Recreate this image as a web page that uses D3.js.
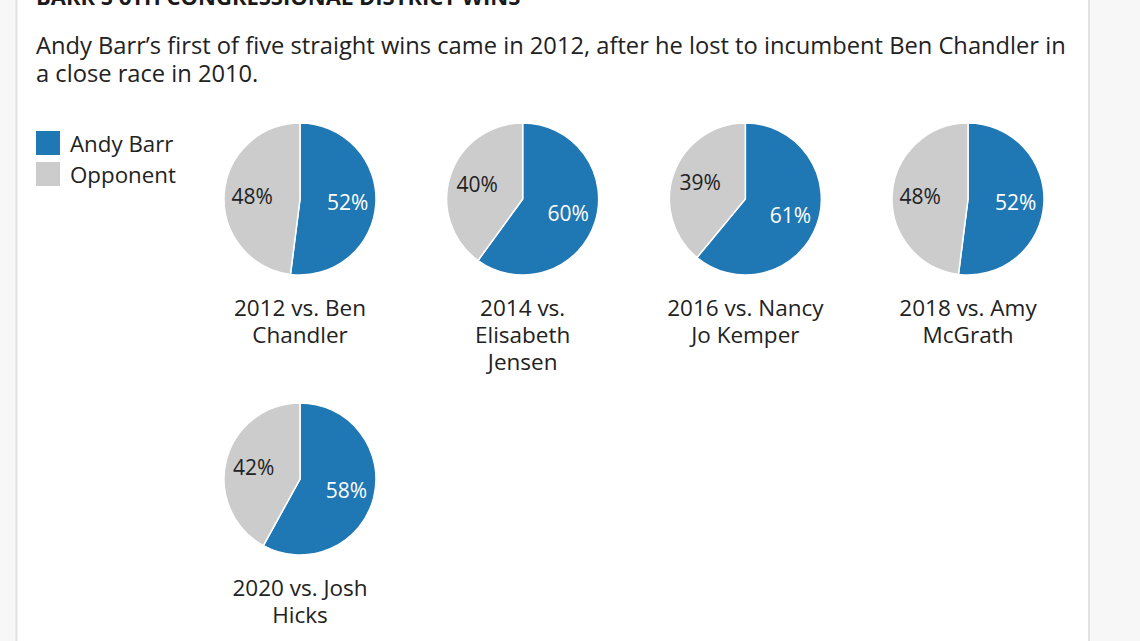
<!DOCTYPE html>
<html>
<head>
<meta charset="utf-8">
<script src="https://cdn.jsdelivr.net/npm/d3@7"></script>
<style>
  html, body { margin: 0; padding: 0; background: #f7f7f7; }
  svg { display: block; }
</style>
</head>
<body>
<div id="chart"></div>
<script>
// chart data
var years = [2012, 2014, 2016, 2018, 2020];
var barrShare = [52, 60, 61, 52, 58];
var opponentShare = [48, 40, 39, 48, 42];
var raceLabels = [
  ["2012 vs. Ben", "Chandler"],
  ["2014 vs.", "Elisabeth", "Jensen"],
  ["2016 vs. Nancy", "Jo Kemper"],
  ["2018 vs. Amy", "McGrath"],
  ["2020 vs. Josh", "Hicks"]
];
var seriesNames = ["Andy Barr", "Opponent"];
var seriesColors = ["#1f77b4", "#cccccc"];

var svgWidth = 1140;
var svgHeight = 641;
var fontFamily = "'Open Sans', 'Noto Sans', sans-serif";

var svg = d3.select("#chart")
  .append("svg")
  .attr("width", svgWidth)
  .attr("height", svgHeight);

// white panel with side borders
svg.append("rect")
  .attr("x", 16)
  .attr("y", 0)
  .attr("width", 1073)
  .attr("height", svgHeight)
  .attr("fill", "#fff");
svg.append("line")
  .attr("x1", 16.5).attr("x2", 16.5)
  .attr("y1", 0).attr("y2", svgHeight)
  .attr("stroke", "#e2e2e2").attr("stroke-width", 2);
svg.append("line")
  .attr("x1", 1089).attr("x2", 1089)
  .attr("y1", 0).attr("y2", svgHeight)
  .attr("stroke", "#e2e2e2").attr("stroke-width", 2);

// title (cut off at top, as in the source page)
svg.append("text")
  .attr("x", 36)
  .attr("y", 5)
  .attr("font-family", fontFamily)
  .attr("font-weight", "bold")
  .attr("font-size", "22px")
  .attr("fill", "#1a1a1a")
  .text("BARR'S 6TH CONGRESSIONAL DISTRICT WINS");

var subtitle = svg.append("text")
  .attr("font-family", fontFamily)
  .attr("font-size", "23.7px")
  .attr("fill", "#222");
subtitle.append("tspan")
  .attr("x", 36).attr("y", 54)
  .text("Andy Barr\u2019s first of five straight wins came in 2012, after he lost to incumbent Ben Chandler in");
subtitle.append("tspan")
  .attr("x", 36).attr("y", 82)
  .text("a close race in 2010.");

// legend
var color = d3.scaleOrdinal().domain(seriesNames).range(seriesColors);

var legend = svg.append("g")
  .attr("transform", "translate(36, 131)");
var legendItems = legend.selectAll("g")
  .data(seriesNames)
  .enter()
  .append("g")
  .attr("transform", (d, i) => `translate(0, ${i * 31})`);
legendItems.append("rect")
  .attr("width", 24)
  .attr("height", 24)
  .attr("fill", d => color(d));
legendItems.append("text")
  .attr("x", 34)
  .attr("y", 21)
  .attr("font-family", fontFamily)
  .attr("font-size", "22.3px")
  .attr("fill", "#222")
  .text(d => d);

// pies
var radius = 76;
var perRow = 4;
var xPos = d3.scalePoint().domain(d3.range(perRow)).range([300, 968]);
var yPos = d3.scalePoint().domain([0, 1]).range([199, 479]);

var pie = d3.pie()
  .sort(null)
  .value(d => d.value);
var arc = d3.arc().innerRadius(0).outerRadius(radius);
var labelArc = d3.arc().innerRadius(radius * 0.63).outerRadius(radius * 0.63);

var races = years.map(function(y, i) {
  return {
    year: y,
    slices: [
      { name: seriesNames[0], value: barrShare[i] },
      { name: seriesNames[1], value: opponentShare[i] }
    ],
    label: raceLabels[i]
  };
});

var pieGroups = svg.selectAll(".race")
  .data(races)
  .enter()
  .append("g")
  .attr("class", "race")
  .attr("transform", (d, i) => `translate(${xPos(i % perRow)}, ${yPos(Math.floor(i / perRow))})`);

pieGroups.selectAll("path")
  .data(d => pie(d.slices))
  .enter()
  .append("path")
  .attr("d", arc)
  .attr("fill", d => color(d.data.name))
  .attr("stroke", "#fff")
  .attr("stroke-width", 1.5);

pieGroups.selectAll(".pct")
  .data(d => pie(d.slices))
  .enter()
  .append("text")
  .attr("class", "pct")
  .attr("transform", d => `translate(${labelArc.centroid(d)})`)
  .attr("dy", "0.36em")
  .attr("text-anchor", "middle")
  .attr("font-family", fontFamily)
  .attr("font-size", "21px")
  .attr("fill", (d, i) => i === 0 ? "#fff" : "#222")
  .text(d => d.data.value + "%");

var captions = pieGroups.append("text")
  .attr("text-anchor", "middle")
  .attr("font-family", fontFamily)
  .attr("font-size", "22.5px")
  .attr("fill", "#222");
captions.selectAll("tspan")
  .data(d => d.label)
  .enter()
  .append("tspan")
  .attr("x", 0)
  .attr("y", (d, i) => radius + 41 + i * 27)
  .text(d => d);
</script>
</body>
</html>
